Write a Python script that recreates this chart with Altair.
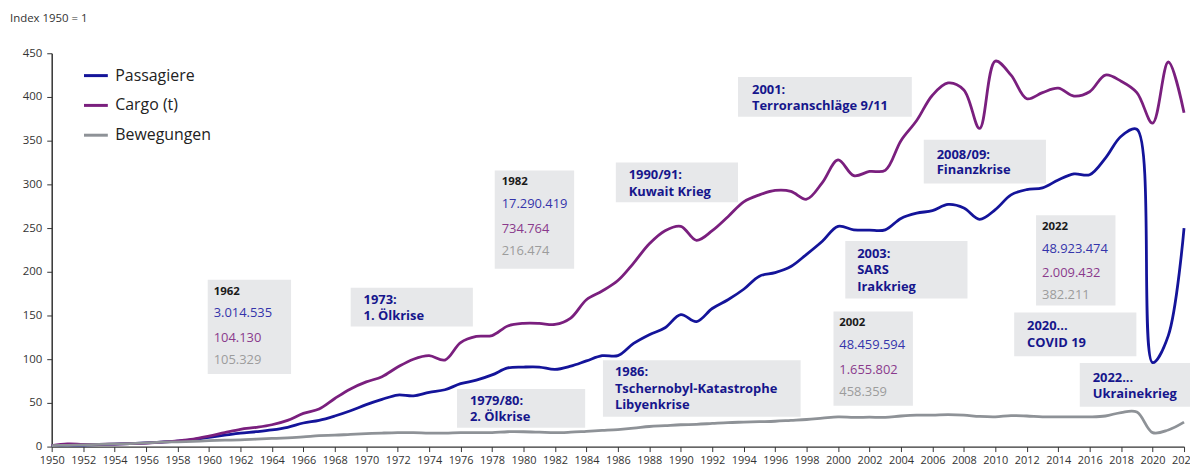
import altair as alt
import pandas as pd

# ---------------- data ----------------
years = list(range(1950, 2023))

passagiere = [
    1.0, 1.4, 1.8, 2.3, 2.9, 3.5, 4.3, 5.2, 6.3, 8.0,            # 1950-59
    10.5, 13.0, 15.4, 17.0, 19.0, 22.0, 27.0, 30.0, 35.0, 41.0,  # 1960-69
    48.0, 54.0, 59.0, 58.0, 62.0, 65.0, 72.0, 76.0, 82.0, 90.0,  # 1970-79
    91.0, 91.0, 88.3, 92.0, 98.0, 104.0, 104.0, 118.0, 128.0, 136.0,  # 1980-89
    151.0, 143.0, 158.0, 168.0, 180.0, 195.0, 199.0, 206.0, 220.0, 235.0,  # 1990-99
    252.0, 248.0, 247.6, 248.0, 261.0, 267.0, 270.0, 277.0, 273.0, 260.0,  # 2000-09
    271.0, 288.0, 294.0, 296.0, 305.0, 312.0, 311.0, 330.0, 355.0, 363.0,  # 2010-19
    96.0, 127.0, 250.0,                                                  # 2020-22
]

cargo = [
    1.0, 3.0, 2.6, 2.6, 2.9, 3.4, 4.0, 5.0, 6.5, 8.5,
    12.0, 16.0, 19.8, 22.0, 25.0, 30.0, 38.0, 43.0, 55.0, 66.0,
    74.0, 80.0, 91.0, 100.0, 104.0, 99.0, 119.0, 126.0, 127.0, 138.0,
    141.0, 141.0, 139.7, 147.0, 168.0, 178.0, 190.0, 210.0, 232.0, 247.0,
    252.0, 236.0, 247.0, 263.0, 280.0, 288.0, 293.0, 292.0, 283.0, 302.0,
    328.0, 310.0, 314.8, 316.0, 350.0, 373.0, 402.0, 416.0, 408.0, 364.0,
    441.0, 425.0, 398.0, 405.0, 410.0, 401.0, 406.0, 425.0, 418.0, 405.0,
    370.0, 440.0, 382.0,
]

bewegungen = [
    1.0, 1.5, 2.0, 2.5, 3.0, 3.5, 4.2, 5.0, 5.5, 6.0,
    6.8, 7.3, 7.7, 8.5, 9.3, 10.0, 11.0, 12.5, 13.0, 14.0,
    14.8, 15.5, 16.0, 16.0, 15.5, 15.5, 16.0, 16.0, 16.0, 17.0,
    17.0, 16.5, 15.9, 16.5, 17.5, 18.5, 19.5, 21.0, 23.0, 24.0,
    25.0, 25.5, 26.5, 27.5, 28.0, 28.5, 29.0, 30.0, 31.0, 32.5,
    34.0, 33.5, 33.6, 33.5, 35.0, 36.0, 36.0, 36.5, 36.0, 34.5,
    34.0, 35.5, 35.0, 34.0, 34.0, 34.0, 34.0, 35.0, 39.0, 39.5,
    16.0, 19.0, 28.0,
]

series_names = ["Passagiere", "Cargo (t)", "Bewegungen"]

# event annotations (label lines)
event_lines = [
    ["1973:", "1. Ölkrise"],
    ["1979/80:", "2. Ölkrise"],
    ["1986:", "Tschernobyl-Katastrophe", "Libyenkrise"],
    ["1990/91:", "Kuwait Krieg"],
    ["2001:", "Terroranschläge 9/11"],
    ["2003:", "SARS", "Irakkrieg"],
    ["2008/09:", "Finanzkrise"],
    ["2020...", "COVID 19"],
    ["2022...", "Ukrainekrieg"],
]

# absolute figures boxes: year, passengers, cargo (t), movements
fact_years = ["1962", "1982", "2002", "2022"]
fact_pax = ["3.014.535", "17.290.419", "48.459.594", "48.923.474"]
fact_cargo = ["104.130", "734.764", "1.655.802", "2.009.432"]
fact_mov = ["105.329", "216.474", "458.359", "382.211"]

# ---------------- styling / placement (data units) ----------------
BLUE = "#14149a"
PURPLE = "#7a1f7e"
GREY = "#8e9297"
NAVY = "#16168c"
FONT = "Open Sans"
BOX = "#e7e8ea"

# box extents: x0, x1, y_top, y_bottom; text anchor x, first row y, row step
event_pos = [
    (1969.01, 1976.78, 181.8, 137.5, 1969.83, 168.2, 19.0),
    (1975.77, 1983.92, 65.9, 21.6, 1976.59, 52.3, 18.5),
    (1985.05, 1997.62, 98.9, 34.1, 1985.81, 85.2, 19.0),
    (1985.87, 1993.64, 325.0, 279.5, 1986.69, 310.2, 18.5),
    (1993.64, 2004.69, 422.7, 377.3, 1994.53, 408.0, 18.5),
    (2000.46, 2008.23, 235.2, 169.3, 2001.22, 220.5, 19.0),
    (2005.45, 2013.22, 351.1, 301.1, 2006.27, 334.1, 18.0),
    (2011.20, 2018.97, 153.4, 103.4, 2012.02, 137.5, 18.5),
    (2015.37, 2023.50, 95.5, 45.5, 2016.19, 78.4, 18.0),
]
fact_pos = [
    (1959.92, 1965.22, 190.9, 83.0, 1960.30, 177.3),
    (1978.17, 1983.22, 315.9, 203.4, 1978.61, 302.3),
    (1999.71, 2004.76, 154.5, 46.6, 2000.08, 140.9),
    (2012.59, 2017.64, 264.8, 161.4, 2012.97, 251.1),
]
fact_steps = [0.0, 25.0, 53.0, 78.0]

# ---------------- tables ----------------
df = pd.DataFrame({
    "Jahr": years * 3,
    "Index": passagiere + cargo + bewegungen,
    "Reihe": [n for n in series_names for _ in years],
})

box_rows = []
bold_rows = []
norm_rows = []
for lines_, (x0, x1, yt, yb, tx, ty, st) in zip(event_lines, event_pos):
    box_rows.append({"x0": x0, "x1": x1, "y0": yt, "y1": yb})
    for i, line in enumerate(lines_):
        bold_rows.append({"x": tx, "y": ty - i * st, "t": line, "c": NAVY, "s": "ev"})
for i, (x0, x1, yt, yb, tx, ty) in enumerate(fact_pos):
    box_rows.append({"x0": x0, "x1": x1, "y0": yt, "y1": yb})
    bold_rows.append({"x": tx, "y": ty - fact_steps[0], "t": fact_years[i], "c": "#1a1a1a", "s": "yr"})
    norm_rows.append({"x": tx, "y": ty - fact_steps[1], "t": fact_pax[i], "c": "#3434ab"})
    norm_rows.append({"x": tx, "y": ty - fact_steps[2], "t": fact_cargo[i], "c": "#8a3a8c"})
    norm_rows.append({"x": tx, "y": ty - fact_steps[3], "t": fact_mov[i], "c": "#9c9c9c"})

boxes_df = pd.DataFrame(box_rows)
bold_df = pd.DataFrame(bold_rows)
norm_df = pd.DataFrame(norm_rows)

xscale = alt.Scale(domain=[1950, 2022], nice=False, zero=False)
yscale = alt.Scale(domain=[0, 450], nice=False, zero=True)

xaxis = alt.Axis(values=years[::2], format="d", labelFlush=False, labelOverlap=False,
                 tickSize=5, labelPadding=3, labelFontSize=11, labelColor="#333",
                 labelFont=FONT, domainColor="#333", domainWidth=1.2, tickColor="#333",
                 grid=False, title=None, labelSeparation=0)
yaxis = alt.Axis(values=list(range(0, 451, 50)), tickSize=5, labelPadding=5,
                 labelFontSize=11.5, labelColor="#333", labelFont=FONT,
                 domainColor="#333", domainWidth=1.5, tickColor="#333", grid=False,
                 title=None)

rects = alt.Chart(boxes_df).mark_rect(color=BOX).encode(
    x=alt.X("x0:Q", scale=xscale, axis=xaxis),
    x2="x1:Q",
    y=alt.Y("y0:Q", scale=yscale, axis=yaxis),
    y2="y1:Q",
)

lines = alt.Chart(df).mark_line(interpolate="catmull-rom", strokeWidth=2.8).encode(
    x=alt.X("Jahr:Q", scale=xscale, axis=xaxis),
    y=alt.Y("Index:Q", scale=yscale, axis=yaxis),
    color=alt.Color(
        "Reihe:N",
        scale=alt.Scale(domain=series_names, range=[BLUE, PURPLE, GREY]),
        sort=series_names,
        legend=alt.Legend(title=None, orient="none", legendX=31, legendY=9,
                          symbolType="stroke", symbolSize=576, symbolStrokeWidth=3,
                          labelFontSize=16, labelFont=FONT, labelColor="#222",
                          labelOffset=6, rowPadding=8, padding=0),
    ),
    order=alt.Order("Jahr:Q"),
)

bold_ev = alt.Chart(bold_df[bold_df.s == "ev"]).mark_text(
    align="left", baseline="middle", font=FONT, fontSize=13, fontWeight="bold"
).encode(x=alt.X("x:Q", scale=xscale, axis=xaxis), y=alt.Y("y:Q", scale=yscale, axis=yaxis),
         text="t:N", color=alt.Color("c:N", scale=None))

bold_yr = alt.Chart(bold_df[bold_df.s == "yr"]).mark_text(
    align="left", baseline="middle", font=FONT, fontSize=11.5, fontWeight="bold"
).encode(x=alt.X("x:Q", scale=xscale, axis=xaxis), y=alt.Y("y:Q", scale=yscale, axis=yaxis),
         text="t:N", color=alt.Color("c:N", scale=None))

norm = alt.Chart(norm_df).mark_text(
    align="left", baseline="middle", font=FONT, fontSize=13
).encode(x=alt.X("x:Q", scale=xscale, axis=xaxis), y=alt.Y("y:Q", scale=yscale, axis=yaxis),
         text="t:N", color=alt.Color("c:N", scale=None))

title = alt.Chart(pd.DataFrame({"t": ["Index 1950 = 1"]})).mark_text(
    align="left", baseline="middle", font=FONT, fontSize=11.5, color="#333"
).encode(text="t:N", x=alt.value(-42), y=alt.value(-34))

chart = alt.layer(rects, lines, bold_ev, bold_yr, norm, title).properties(
    width=1140, height=396,
    autosize=alt.AutoSizeParams(type="none"),
    padding={"left": 44, "top": 44, "right": 6, "bottom": 22},
).configure(font=FONT).configure_view(stroke=None).configure_axisX(
    labelOverlap=False, labelSeparation=0
)

chart.save("out.html", embed_options={"renderer": "svg", "actions": False})
